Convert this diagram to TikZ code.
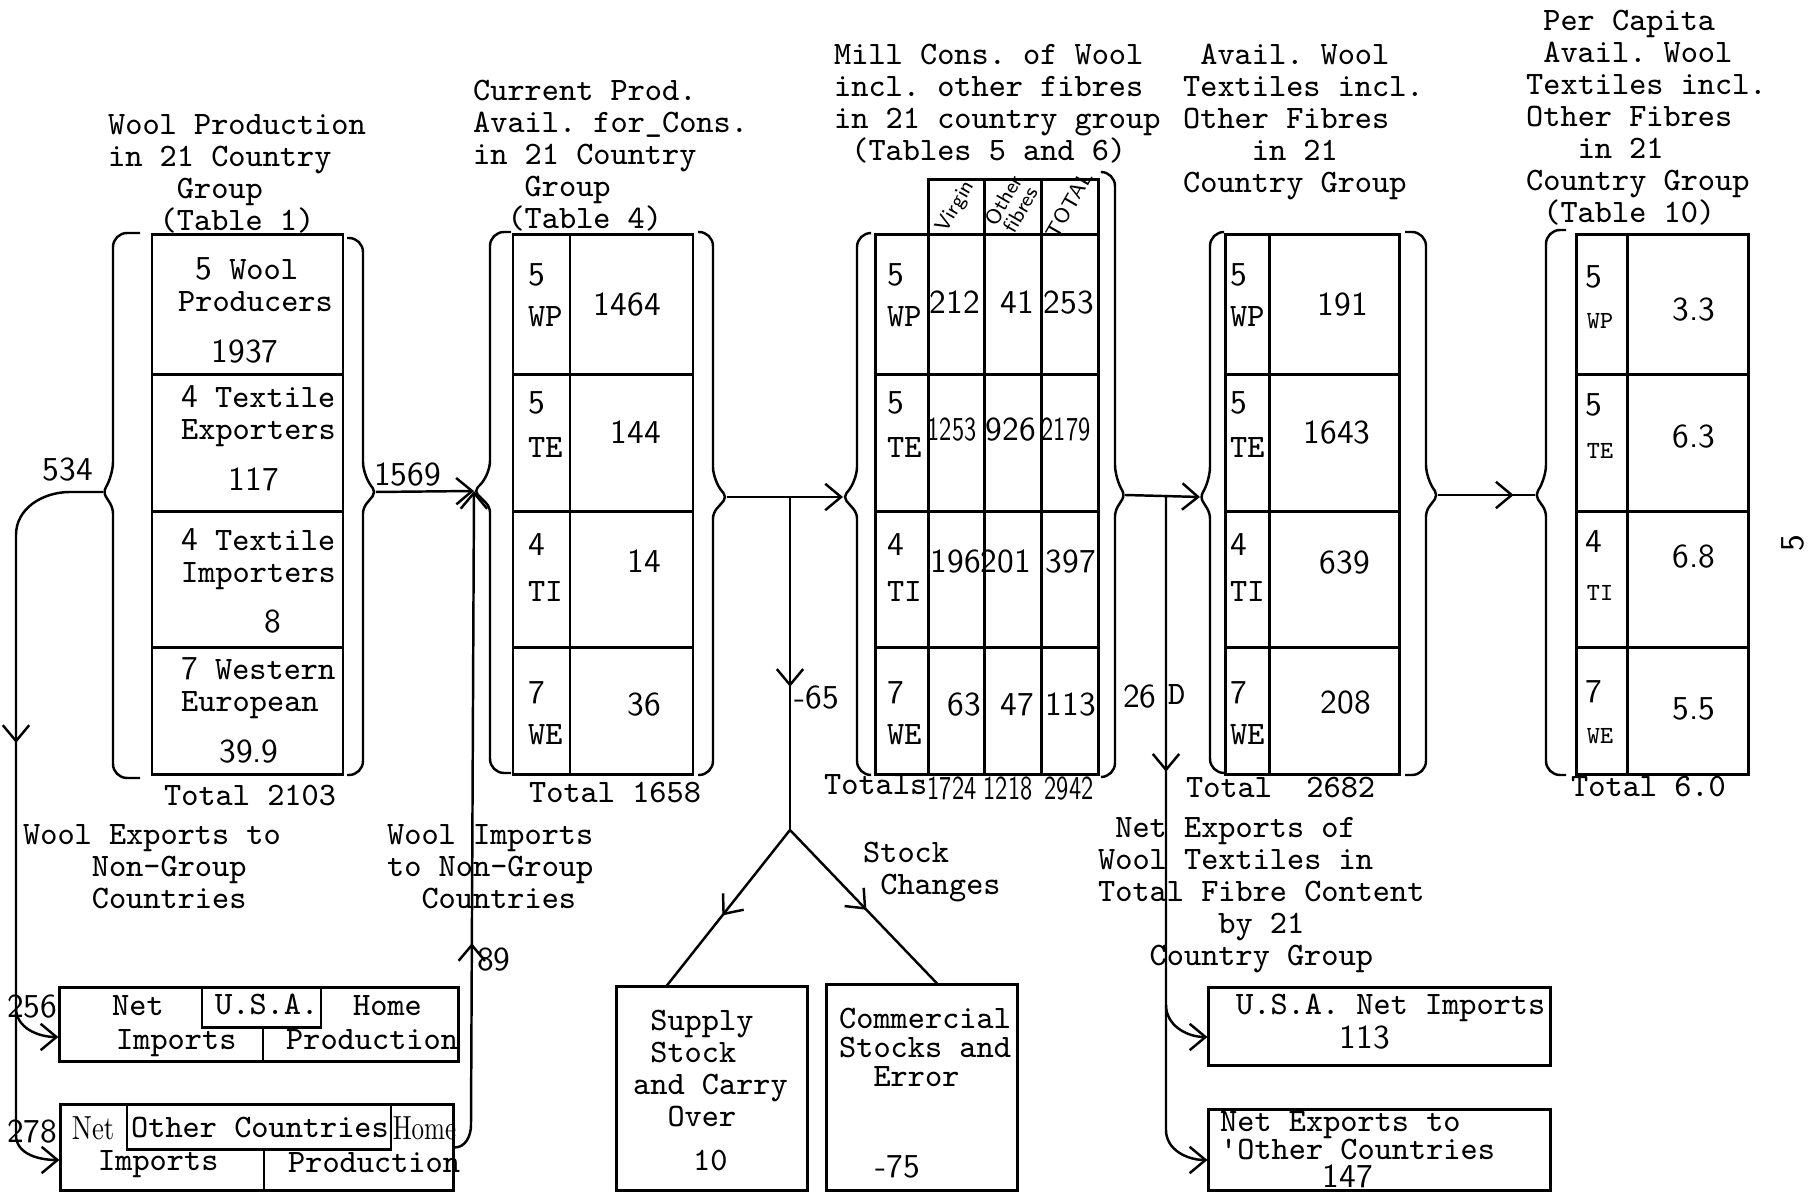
\documentclass[tikz,border=0pt]{standalone}
\usepackage{fontspec}
\usetikzlibrary{arrows.meta, decorations.markings, calc}
\newcommand{\hnd}{\sffamily\fontsize{9.5}{9.1}\selectfont}
\newcommand{\flowbrace}[7]{%
  \draw[rounded corners=4pt] (#1,#4) -- (#2,#4) -- (#2,#5-16) [rounded corners=1.5pt] -- (#3,#5) -- (#2,#5+16) [rounded corners=4pt] -- (#2,#6) -- (#1,#6);
  \coordinate (#7) at (#3,#5);}
\begin{document}
\begin{tikzpicture}[
    x=0.01cm, y=-0.01cm, line width=0.7pt,
    typed/.style={font=\ttfamily\frenchspacing\fontsize{9.3}{9.1}\selectfont, inner sep=0pt, align=left, anchor=base west},
    smalltyped/.style={typed, font=\ttfamily\fontsize{7}{8}\selectfont, anchor=base},
    hand/.style={font=\hnd, inner sep=0pt, anchor=base},
    tab/.style={line width=0.85pt},
    box/.style={draw, line width=0.85pt, inner sep=0pt},
    arr/.style={-{Straight Barb[length=4.5pt,width=7.5pt]}},
    marr/.style={postaction={decorate}, decoration={markings, mark=at position #1 with {\arrow{Straight Barb[length=4.5pt,width=7.5pt]}}}}
]
\useasboundingbox (0,0) rectangle (1808,1192);

\node[typed] (t1) at (107,231) {Wool Production\\in 21 Country\\\ \ \ \ Group\\\ \ \ (Table 1)};
\node[typed] (t2) at (472,229) {Current Prod.\\Avail. for\_Cons.\\in 21 Country\\\ \ \ Group\\\ \ (Table 4)};
\node[typed] (t3) at (833,161) {Mill Cons. of Wool\\incl. other fibres\\in 21 country group\\\ (Tables 5 and 6)};
\node[typed] (t4) at (1182,193) {\ Avail. Wool\\Textiles incl.\\Other Fibres\\\ \ \ \ in 21\\Country Group};
\node[typed] (t5) at (1525,223) {\ Per Capita\\\ Avail. Wool\\Textiles incl.\\Other Fibres\\\ \ \ in 21\\Country Group\\\ (Table 10)};

\foreach \xa/\xb in {152/343, 513/693, 875/1098, 1225/1399, 1576/1748} {
  \draw[tab] (\xa,235) rectangle (\xb,775);
  \foreach \y in {375,512,648} \draw[tab] (\xa,\y) -- (\xb,\y);
}
\foreach \x in {570,928,984,1041,1269,1627} \draw[tab] (\x,235) -- (\x,775);
\draw[tab] (928,235) -- (928,180) -- (1098,180) -- (1098,235);
\draw[tab] (984,180) -- (984,235) (1041,180) -- (1041,235);

\flowbrace{140}{113}{103}{233}{492}{778}{b1L}
\flowbrace{347}{363}{376}{238}{492}{775}{b1R}
\flowbrace{511}{490}{474}{232}{491}{773}{b2L}
\flowbrace{698}{713}{727}{232}{497}{775}{b2R}
\flowbrace{871}{857}{843}{233}{497}{775}{b3L}
\flowbrace{1102}{1115}{1125}{172}{495}{777}{b3R}
\flowbrace{1223}{1210}{1200}{232}{497}{773}{b4L}
\flowbrace{1405}{1426}{1438}{232}{495}{775}{b4R}
\flowbrace{1566}{1546}{1535}{230}{495}{775}{b5L}

\node[typed] (w1) at (177,312) {\ {\hnd 5} Wool\\Producers};
\node[typed] (w2) at (180,440) {{\hnd 4} Textile\\Exporters};
\node[typed] (w3) at (180,583) {{\hnd 4} Textile\\Importers};
\node[typed] (w4) at (180,712) {{\hnd 7} Western\\European};
\node[hand] (w1v) at (245,363) {1937};
\node[hand] (w2v) at (254,491) {117};
\node[hand] (w3v) at (273,633) {8};
\node[hand] (w4v) at (249,763) {39.9};
\node[typed] (w0) at (163,806) {Total 2103};

\foreach \x/\c in {527/p, 886/m, 1229/a} {
  \foreach \n/\g/\ya/\yb [count=\i] in {5/WP/286/327, 5/TE/414/458, 4/TI/556/602, 7/WE/704/745} {
    \node[hand, anchor=base west] (\c\i n) at (\x,\ya) {\n};
    \node[typed] (\c\i g) at (\x,\yb) {\g};
  }
}
\foreach \v/\y [count=\i] in {1464/316, 144/444, 14/573, 36/716}
  \node[hand, anchor=base east] (p\i v) at (662,\y) {\v};
\node[typed] (p0) at (528,803) {Total 1658};

\node[hand, rotate=60, font=\sffamily\fontsize{6}{6}\selectfont, anchor=center] (mh1) at (956,207) {Virgin};
\node[hand, rotate=60, font=\sffamily\fontsize{6}{5.5}\selectfont, anchor=center, align=center] (mh2) at (1012,205) {Other\\fibres};
\node[hand, rotate=60, font=\sffamily\fontsize{6}{6}\selectfont, anchor=center] (mh3) at (1069,205) {TOTAL};
\node[hand] (m1a) at (955,314) {212};
\node[hand] (m1b) at (1017,314) {41};
\node[hand] (m1c) at (1069,314) {253};
\node[hand, xscale=0.73] (m2a) at (952,441) {1253};
\node[hand] (m2b) at (1011,441) {926};
\node[hand, xscale=0.73] (m2c) at (1066,441) {2179};
\node[hand] (m3a) at (956,573) {196};
\node[hand] (m3b) at (1006,573) {201};
\node[hand] (m3c) at (1071,573) {397};
\node[hand] (m4a) at (964,716) {63};
\node[hand] (m4b) at (1017,716) {47};
\node[hand] (m4c) at (1071,716) {113};
\node[typed] (m0) at (823,795) {Totals};
\node[hand, xscale=0.73] (m0a) at (952,800) {1724};
\node[hand, xscale=0.73] (m0b) at (1008,800) {1218};
\node[hand, xscale=0.73] (m0c) at (1069,800) {2942};

\foreach \v/\x/\y [count=\i] in {191/1343/316, 1643/1337/444, 639/1345/574, 208/1346/714}
  \node[hand] (a\i v) at (\x,\y) {\v};
\node[typed] (a0) at (1185,798) {Total\ \ 2682};

\foreach \n/\g/\ya/\yb/\v/\yv [count=\i] in {5/WP/288/329/3.3/321, 5/TE/416/459/6.3/448, 4/TI/553/601/6.8/568, 7/WE/703/744/5.5/720} {
  \node[hand] (c\i n) at (1594,\ya) {\n};
  \node[smalltyped] (c\i g) at (1600,\yb) {\g};
  \node[hand] (c\i v) at (1694,\yv) {\v};
}
\node[typed] (c0) at (1570,797) {Total 6.0};
\node[hand, rotate=90, anchor=center] (pg) at (1793,543) {5};

\node[box, minimum width=3.98cm, minimum height=0.73cm] (usa) at (259,1024.5) {};
\draw[tab] (202,988) rectangle (321,1028) (263,1028) -- (263,1061);
\node[typed] (usa1) at (111,1016) {Net};
\node[typed] (usa2) at (214,1015) {U.S.A.};
\node[typed] (usa3) at (352,1016) {Home};
\node[typed] (usa4) at (115,1050) {Imports};
\node[typed] (usa5) at (285,1050) {Production};

\node[box, minimum width=3.92cm, minimum height=0.85cm] (oth) at (257,1147.5) {};
\draw[tab] (127,1105) rectangle (391,1150) (264,1150) -- (264,1190);
\node[typed, font=\rmfamily\fontsize{9.5}{9}\selectfont, xscale=0.8] (oth1) at (71,1140) {Net};
\node[typed] (oth2) at (130,1138) {Other Countries};
\node[typed, font=\rmfamily\fontsize{9.5}{9}\selectfont, xscale=0.75] (oth3) at (392,1140) {Home};
\node[typed] (oth4) at (97,1171) {Imports};
\node[typed] (oth5) at (287,1173) {Production};

\node[box, minimum width=1.9cm, minimum height=2.03cm] (sup) at (712,1088.5) {};
\node[typed] (sup1) at (632,1127) {\ Supply\\\ Stock\\and Carry\\\ \ Over};
\node[typed] (sup2) at (692,1171) {10};
\node[box, minimum width=1.9cm, minimum height=2.05cm] (com) at (922,1087.5) {};
\node[typed, font=\ttfamily\fontsize{9.3}{8.3}\selectfont] (com1) at (838,1087) {Commercial\\Stocks and\\\ \ Error};
\node[hand] (com2) at (898,1178) {-75};

\node[box, minimum width=3.41cm, minimum height=0.77cm] (usn) at (1379.5,1026.5) {};
\node[typed] (usn1) at (1235,1015) {U.S.A. Net Imports};
\node[hand] (usn2) at (1365,1049) {113};
\node[box, minimum width=3.41cm, minimum height=0.8cm] (nex) at (1379.5,1150) {};
\node[typed, font=\ttfamily\fontsize{9.3}{8.2}\selectfont] (nex1) at (1219,1160) {Net Exports to\\'Other Countries};
\node[hand] (nex2) at (1348,1188) {147};

\node[typed] (wex) at (22,909) {Wool Exports to\\\ \ \ \ Non-Group\\\ \ \ \ Countries};
\node[typed] (wim) at (386,909) {Wool Imports\\to Non-Group\\\ \ Countries};
\node[typed] (nx) at (1097,966) {\ Net Exports of\\Wool Textiles in\\Total Fibre Content\\\ \ \ \ \ \ \ by 21\\\ \ \ Country Group};
\node[typed] (stk) at (862,895) {Stock\\\ Changes};

\node[hand] (l534) at (68,481) {534};
\node[hand, anchor=base west] (l1569) at (373,486) {1569};
\node[hand, anchor=base west] (l89) at (476,971) {89};
\node[hand, anchor=base west] (l65) at (793,709) {-65};
\node[hand, anchor=base west] (l26) at (1122,708) {26};
\node[typed] (lD) at (1167,705) {D};
\node[hand, anchor=base west] (l256) at (6,1018) {256};
\node[hand, anchor=base west] (l278) at (6,1143) {278};

\coordinate (e256) at (16,1008);
\coordinate (j2) at (790,497);
\coordinate (fork) at (790,830);
\coordinate (j3) at (1166,495);
\coordinate (e113) at (1166,1005);

\draw[arr, marr=0.415] (b1L) -- (70,492) to[out=180,in=90] (16,535) -- (16,1135) to[out=-90,in=180] ([yshift=-0.125cm]oth.west);
\draw[arr] (e256) to[out=-90,in=180] ([yshift=-0.125cm]usa.west);
\draw[arr] (b1R) -- (b2L);
\draw[arr, marr=0.32] (oth.east) to[out=0,in=-90] (471,1125) -- (b2L);
\draw[arr] (b2R) -- (b3L);
\draw[marr=0.57] (j2) -- (fork);
\draw[marr=0.55] (fork) -- ([xshift=-0.45cm]sup.north);
\draw[marr=0.52] (fork) -- ([xshift=0.15cm]com.north);
\draw[arr] (b3R) -- (b4L);
\draw[arr, marr=0.40] (j3) -- (1166,1130) to[out=-90,in=180] ([yshift=-0.1cm]nex.west);
\draw[arr] (e113) to[out=-90,in=180] ([yshift=-0.105cm]usn.west);
\draw[marr=0.78] (b4R) -- (b5L);
\end{tikzpicture}
\end{document}
